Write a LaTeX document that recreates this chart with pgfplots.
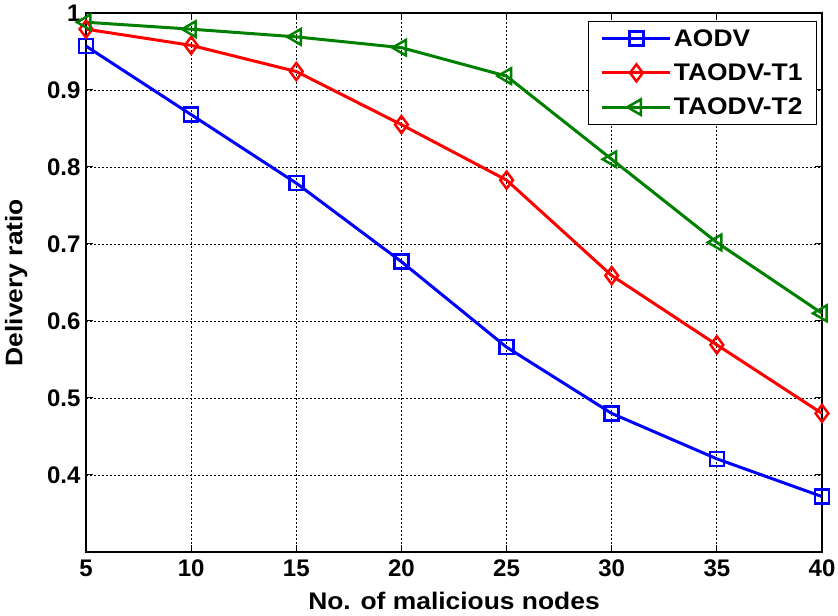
\documentclass[border=0pt]{standalone}
\usepackage{fontspec}
\setmainfont{Liberation Sans}
\newfontfamily\widefont{Liberation Sans}[FakeStretch=1.1]
\usepackage{pgfplots}
\usetikzlibrary{calc}
\pgfplotsset{compat=1.18}
\definecolor{mgreen}{rgb}{0,0.5,0}
\begin{document}
\begin{tikzpicture}
\begin{axis}[
  scale only axis,
  width=736pt, height=539pt,
  xmin=5, xmax=40, ymin=0.3, ymax=1,
  xtick={5,10,...,40},
  ytick={0.4,0.5,0.6,0.7,0.8,0.9,1},
  yticklabels={0.4,0.5,0.6,0.7,0.8,0.9,1},
  /pgf/number format/assume math mode=true,
  tick label style={font=\bfseries\fontsize{24}{28}\selectfont},
  label style={font=\widefont\bfseries\fontsize{24}{28}\selectfont},
  xlabel={No. of malicious nodes},
  ylabel={Delivery ratio},
  xlabel style={yshift=-9pt},
  ylabel style={yshift=13pt},
  xticklabel style={yshift=-4pt},
  yticklabel style={xshift=-2pt},
  grid=major,
  major grid style={black, line width=0.8pt, dash pattern=on 2pt off 2pt},
  axis line style={black, line width=1.3pt},
  tick align=inside,
  major tick length=7pt,
  tick style={black, line width=1pt},
  legend style={at={(1,1)}, anchor=north east, xshift=-5pt, yshift=-8pt,
    draw=black, line width=1pt, font=\widefont\bfseries\fontsize{24}{28}\selectfont,
    inner xsep=12pt, inner ysep=6pt, row sep=12pt, cells={anchor=west}},
  legend cell align=left,
  legend image code/.code={\draw[mark repeat=2,mark phase=2,#1] plot coordinates {(0pt,0pt) (34pt,0pt) (68pt,0pt)};},
  every axis plot/.append style={line width=3pt},
]
\coordinate (sw) at (rel axis cs:0,0);
\coordinate (ne) at (rel axis cs:1,1);
\addplot[color=blue, mark=square, mark size=7pt, mark options={solid, line width=2.5pt}]
  coordinates {(5,0.957) (10,0.868) (15,0.779) (20,0.677) (25,0.566) (30,0.480) (35,0.421) (40,0.372)};
\addlegendentry{AODV}
\addplot[color=red, mark=diamond, mark size=8.5pt, mark options={solid, line width=2.5pt}]
  coordinates {(5,0.979) (10,0.958) (15,0.924) (20,0.855) (25,0.783) (30,0.659) (35,0.569) (40,0.480)};
\addlegendentry{TAODV-T1}
\addplot[color=mgreen, mark=triangle, mark size=9pt, mark options={solid, line width=2.5pt, rotate=90}]
  coordinates {(5,0.988) (10,0.979) (15,0.969) (20,0.955) (25,0.918) (30,0.810) (35,0.702) (40,0.610)};
\addlegendentry{TAODV-T2}
\end{axis}
\pgfresetboundingbox
\path ($(sw)+(-86pt,-64pt)$) rectangle ($(ne)+(16pt,13pt)$);
\end{tikzpicture}
\end{document}
